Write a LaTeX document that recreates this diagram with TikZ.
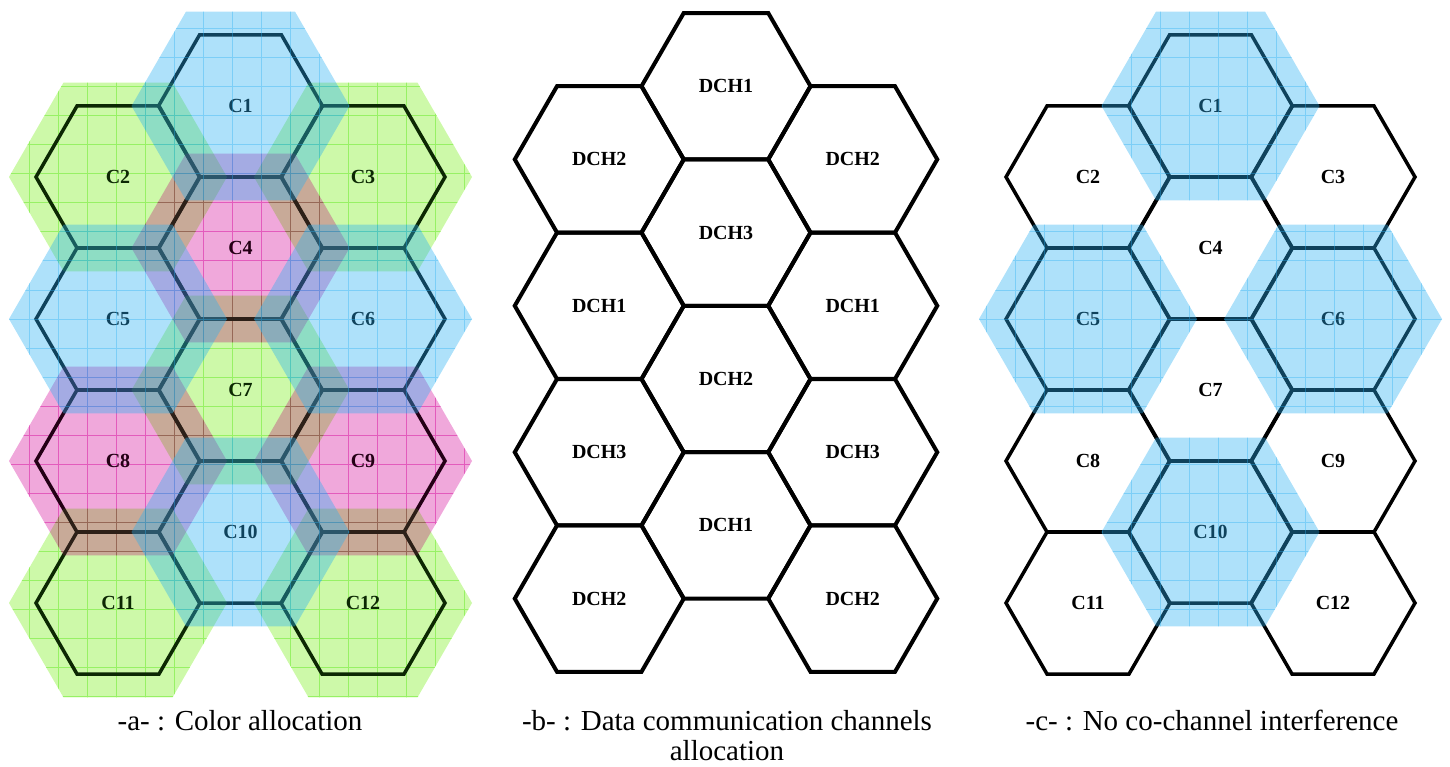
\documentclass[tikz,border=0pt]{standalone}
\usepackage{fontspec}
\setmainfont{Liberation Serif}
\definecolor{hblue}{RGB}{42,176,242}
\definecolor{hgreen}{RGB}{235,255,203}
\definecolor{hgreenl}{RGB}{185,245,150}
\definecolor{hgreens}{RGB}{70,225,20}
\definecolor{hpink}{RGB}{249,205,242}
\definecolor{hpinkl}{RGB}{240,140,215}
\definecolor{hpinks}{RGB}{200,0,120}
\tikzset{
  cell/.style={draw=black, line width=3.5pt},
  dcell/.style={draw=black, line width=4pt},
  lab/.style={font=\fontsize{20}{24}\selectfont\bfseries, inner sep=0pt},
  captext/.style={font=\fontsize{29}{34}\selectfont, inner sep=0pt, anchor=base},
  tint/.style={fill=#1, fill opacity=0.18},
}
\def\hexp#1{(0:#1) -- (60:#1) -- (120:#1) -- (180:#1) -- (240:#1) -- (300:#1) -- cycle}
% blue halo: normal transparency, on top
\newcommand\halob[2]{%
  \begin{scope}
    \clip[shift={(#1,#2)}] \hexp{109};
    \fill[hblue, fill opacity=0.38] (#1-115,#2+100) rectangle (#1+115,#2-100);
    \draw[hblue, draw opacity=0.38, line width=1pt, step=29pt] (#1-115,#2+100) grid (#1+115,#2-100);
  \end{scope}}
% green / pink halo: multiplied
\newcommand\halom[4]{%
  \begin{scope}[blend mode=multiply]
    \clip[shift={(#1,#2)}] \hexp{109};
    \fill[#3] (#1-115,#2+100) rectangle (#1+115,#2-100);
    \draw[#4, line width=1pt, step=29pt] (#1-115,#2+100) grid (#1+115,#2-100);
  \end{scope}}
\begin{document}
\begin{tikzpicture}[x=1pt,y=-1pt]
\useasboundingbox (0,0) rectangle (1450,767);
% ---------- panel a ----------
\foreach \x/\y in {118/177, 363/177, 240.5/390, 118/603, 363/603}{
  \halom{\x}{\y}{hgreen}{hgreenl}
}
\foreach \x/\y in {240.5/248, 118/461, 363/461}{
  \halom{\x}{\y}{hpink}{hpinkl}
}
\foreach \x/\y/\t in {240.5/106/C1, 118/177/C2, 363/177/C3,
  240.5/248/C4, 118/319/C5, 363/319/C6,
  240.5/390/C7, 118/461/C8, 363/461/C9,
  240.5/532/C10, 118/603/C11, 363/603/C12}{
  \draw[cell, shift={(\x,\y)}] \hexp{82};
  \node[lab] (a\t) at (\x,\y) {\t};
}
\foreach \x/\y in {118/177, 363/177, 240.5/390, 118/603, 363/603}{
  \path[tint=hgreens, shift={(\x,\y)}] \hexp{109};
}
\foreach \x/\y in {240.5/248, 118/461, 363/461}{
  \path[tint=hpinks, shift={(\x,\y)}] \hexp{109};
}
\foreach \x/\y in {240.5/106, 118/319, 363/319, 240.5/532}{
  \halob{\x}{\y}
}
% ---------- panel b ----------
\foreach \x/\y/\t/\n in {726/86.2/DCH1/1, 726/232.6/DCH3/2, 726/379/DCH2/3, 726/525.4/DCH1/4,
  599.25/159.4/DCH2/5, 599.25/305.8/DCH1/6, 599.25/452.2/DCH3/7, 599.25/598.6/DCH2/8,
  852.75/159.4/DCH2/9, 852.75/305.8/DCH1/10, 852.75/452.2/DCH3/11, 852.75/598.6/DCH2/12}{
  \draw[dcell, shift={(\x,\y)}] \hexp{84.5};
  \node[lab] (b\n) at (\x,\y) {\t};
}
% ---------- panel c ----------
\foreach \x/\y/\t in {1210.5/106/C1, 1088/177/C2, 1333/177/C3,
  1210.5/248/C4, 1088/319/C5, 1333/319/C6,
  1210.5/390/C7, 1088/461/C8, 1333/461/C9,
  1210.5/532/C10, 1088/603/C11, 1333/603/C12}{
  \draw[cell, shift={(\x,\y)}] \hexp{82};
  \node[lab] (c\t) at (\x,\y) {\t};
}
\foreach \x/\y in {1210.5/106, 1088/319, 1333/319, 1210.5/532}{
  \halob{\x}{\y}
}
% ---------- captions ----------
\node[captext] (capa) at (240,730) {-a- : Color allocation};
\node[captext] (capb1) at (727,730) {-b- : Data communication channels};
\node[captext] (capb2) at (727,760) {allocation};
\node[captext] (capc) at (1212,730) {-c- : No co-channel interference};
\end{tikzpicture}
\end{document}
